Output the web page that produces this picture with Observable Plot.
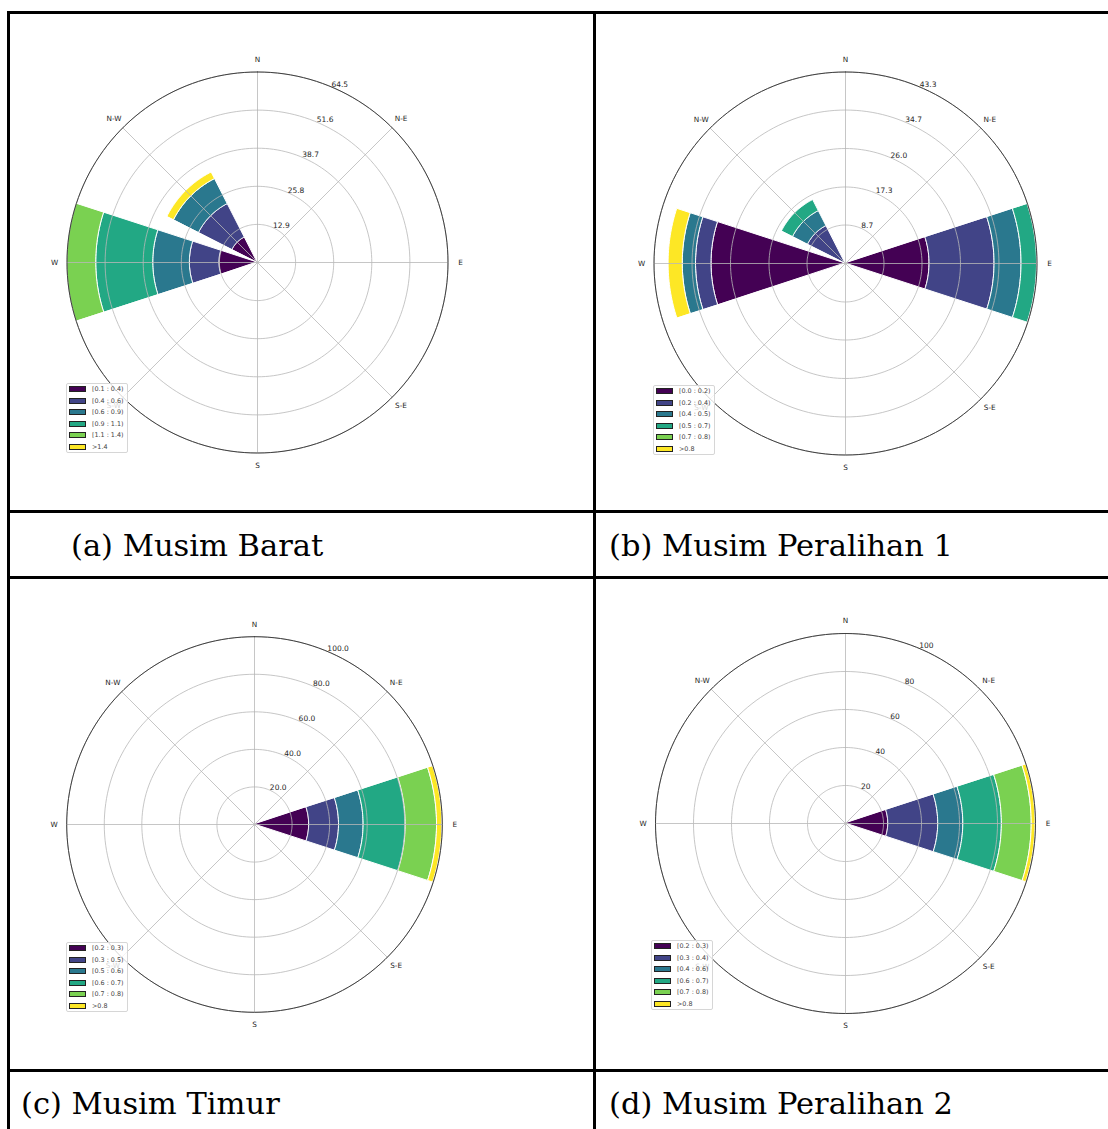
<!DOCTYPE html>
<html><head><meta charset="utf-8">
<script src="https://cdn.jsdelivr.net/npm/d3@7"></script>
<script src="https://cdn.jsdelivr.net/npm/@observablehq/plot@0.6"></script>
<style>
body{margin:0;background:#fff;width:1108px;height:1129px;overflow:hidden;position:relative;font-family:"DejaVu Sans",sans-serif}
.panel{position:absolute}
.panel svg{overflow:visible}
.hl{position:absolute;background:#000;height:3px;left:7px;width:1101px;z-index:5}
.vl{position:absolute;background:#000;width:3px;top:11px;height:1118px;z-index:5}
.cap{position:absolute;font-family:"DejaVu Serif",serif;font-size:30.5px;line-height:30px;color:#000;white-space:nowrap}
.legend{position:absolute;border:1px solid #d6d6d6;border-radius:2px;background:rgba(255,255,255,0.8);box-sizing:border-box;z-index:3}
.legend .sw{position:absolute;width:17.7px;height:6px;box-sizing:border-box;border:0.8px solid #222}
.legend .lb{position:absolute;font-size:6.4px;line-height:8px;color:#444;white-space:nowrap}
</style>
</head><body>
<div id="root"></div>
<script>
// ---- shared ----
const compassNames = ["N","N-E","E","S-E","S","S-W","W","N-W"];
const compassDeg = [0,45,90,135,180,225,270,315];
const binColors = ["#440154","#414487","#2a788e","#22a884","#7ad151","#fde725"];
const sectorWidth = 36;

// ---- (a) Musim Barat ----
const captionA = "(a) Musim Barat";
const binsA = ["[0.1 : 0.4)","[0.4 : 0.6)","[0.6 : 0.9)","[0.9 : 1.1)","[1.1 : 1.4)",">1.4"];
const dirsA = ["W","N-W"];
const freqA_W  = [12.9,10.0,12.4,19.3,9.9,0];
const freqA_NW = [9.5,12.7,9.5,0,0,2.5];
const ticksA = ["12.9","25.8","38.7","51.6","64.5"];

// ---- (b) Musim Peralihan 1 ----
const captionB = "(b) Musim Peralihan 1";
const binsB = ["[0.0 : 0.2)","[0.2 : 0.4)","[0.4 : 0.5)","[0.5 : 0.7)","[0.7 : 0.8)",">0.8"];
const dirsB = ["W","N-W","E"];
const freqB_W  = [30.3,3.5,3.0,0,0,3.2];
const freqB_NW = [0,9.5,3.8,2.8,0,0];
const freqB_E  = [19.0,14.7,6.1,3.5,0,0];
const ticksB = ["8.7","17.3","26.0","34.7","43.3"];

// ---- (c) Musim Timur ----
const captionC = "(c) Musim Timur";
const binsC = ["[0.2 : 0.3)","[0.3 : 0.5)","[0.5 : 0.6)","[0.6 : 0.7)","[0.7 : 0.8)",">0.8"];
const dirsC = ["E"];
const freqC_E = [29.1,15.9,13.1,22.4,16.7,2.8];
const ticksC = ["20.0","40.0","60.0","80.0","100.0"];

// ---- (d) Musim Peralihan 2 ----
const captionD = "(d) Musim Peralihan 2";
const binsD = ["[0.2 : 0.3)","[0.3 : 0.4)","[0.4 : 0.6)","[0.6 : 0.7)","[0.7 : 0.8)",">0.8"];
const dirsD = ["E"];
const freqD_E = [22.5,26.3,13.2,20.3,15.7,2.0];
const ticksD = ["20","40","60","80","100"];

// ---- layout (pixels) ----
const layouts = [
  {cx:256.7, cy:261.7, R:190.5, legL:66,  legT:383, capL:71,  capT:531},
  {cx:845,   cy:263.3, R:191.5, legL:653, legT:385, capL:609, capT:531},
  {cx:254,   cy:824,   R:187.8, legL:66,  legT:942, capL:21,  capT:1089},
  {cx:845,   cy:822.7, R:190,   legL:651, legT:940, capL:609, capT:1089}
];

const half = 230;
const rad = Math.PI / 180;

function rose(dirs, freqRows, ticks, bins, R) {
  const rmax = +ticks[ticks.length - 1];
  const k = R / rmax;
  const D = half / k;
  const wedges = [];
  dirs.forEach((dir, i) => {
    const a0 = compassDeg[compassNames.indexOf(dir)];
    let r0 = 0;
    freqRows[i].forEach((f, b) => {
      const r1 = r0 + f;
      if (f > 0) {
        for (let s = 0; s <= 36; s++) {
          wedges.push({key: dir + "-" + b, bin: bins[b], t: (a0 - sectorWidth / 2 + sectorWidth * s / 36) * rad, r0, r1});
        }
      }
      r0 = r1;
    });
  });
  const rings = [];
  ticks.forEach(tk => { for (let s = 0; s <= 180; s++) rings.push({ring: tk, t: s * 2 * rad, r: +tk}); });
  const outer = rings.filter(d => d.ring === ticks[ticks.length - 1]);
  const spokes = compassNames.map((n, i) => ({name: n, t: compassDeg[i] * rad}));
  const lab = rmax + 12.5 / k;
  return Plot.plot({
    width: 2 * half, height: 2 * half, margin: 0,
    x: {domain: [-D, D], axis: null},
    y: {domain: [-D, D], axis: null},
    color: {type: "ordinal", domain: bins, range: binColors},
    style: {background: "transparent", fontFamily: "'DejaVu Sans', sans-serif"},
    marks: [
      Plot.area(wedges, {
        x1: d => d.r0 * Math.sin(d.t), y1: d => d.r0 * Math.cos(d.t),
        x2: d => d.r1 * Math.sin(d.t), y2: d => d.r1 * Math.cos(d.t),
        z: "key", fill: "bin", stroke: "white", strokeWidth: 1
      }),
      Plot.line(rings, {x: d => d.r * Math.sin(d.t), y: d => d.r * Math.cos(d.t), z: "ring", stroke: "#b8b8b8", strokeWidth: 0.8}),
      Plot.link(spokes, {x1: () => 0, y1: () => 0, x2: d => rmax * Math.sin(d.t), y2: d => rmax * Math.cos(d.t), stroke: "#b8b8b8", strokeWidth: 0.8}),
      Plot.line(outer, {x: d => d.r * Math.sin(d.t), y: d => d.r * Math.cos(d.t), stroke: "#404040", strokeWidth: 1}),
      Plot.text(spokes, {x: d => lab * Math.sin(d.t), y: d => lab * Math.cos(d.t), text: "name", fontSize: 7.3, fill: "#262626"}),
      Plot.text(ticks, {x: d => +d * Math.sin(22.5 * rad), y: d => +d * Math.cos(22.5 * rad), text: d => d,
        textAnchor: "start", lineAnchor: "bottom", dx: 1, dy: 0.5, fontSize: 7.5, fill: "#262626"})
    ]
  });
}

function legend(bins, left, top) {
  const box = document.createElement("div");
  box.className = "legend";
  box.style.left = left + "px"; box.style.top = top + "px";
  box.style.width = "62px"; box.style.height = "70px";
  bins.forEach((b, i) => {
    const sw = document.createElement("div");
    sw.className = "sw";
    sw.style.background = binColors[i];
    sw.style.left = "1.5px"; sw.style.top = (2.3 + 11.5 * i) + "px";
    box.appendChild(sw);
    const lb = document.createElement("div");
    lb.className = "lb";
    lb.textContent = b;
    lb.style.left = "25px"; lb.style.top = (1.3 + 11.5 * i) + "px";
    box.appendChild(lb);
  });
  return box;
}

const root = document.getElementById("root");
const panels = [
  [captionA, dirsA, [freqA_W, freqA_NW], ticksA, binsA],
  [captionB, dirsB, [freqB_W, freqB_NW, freqB_E], ticksB, binsB],
  [captionC, dirsC, [freqC_E], ticksC, binsC],
  [captionD, dirsD, [freqD_E], ticksD, binsD]
];
panels.forEach(([cap, dirs, freqs, ticks, bins], i) => {
  const L = layouts[i];
  const wrap = document.createElement("div");
  wrap.className = "panel";
  wrap.style.left = (L.cx - half) + "px";
  wrap.style.top = (L.cy - half) + "px";
  wrap.appendChild(rose(dirs, freqs, ticks, bins, L.R));
  root.appendChild(wrap);
  root.appendChild(legend(bins, L.legL, L.legT));
  const c = document.createElement("div");
  c.className = "cap";
  c.textContent = cap;
  c.style.left = L.capL + "px"; c.style.top = L.capT + "px";
  root.appendChild(c);
});

// table rules
[11, 510, 576, 1069].forEach(y => {
  const d = document.createElement("div"); d.className = "hl"; d.style.top = y + "px"; root.appendChild(d);
});
[7, 593].forEach(x => {
  const d = document.createElement("div"); d.className = "vl"; d.style.left = x + "px"; root.appendChild(d);
});
</script>
</body></html>
